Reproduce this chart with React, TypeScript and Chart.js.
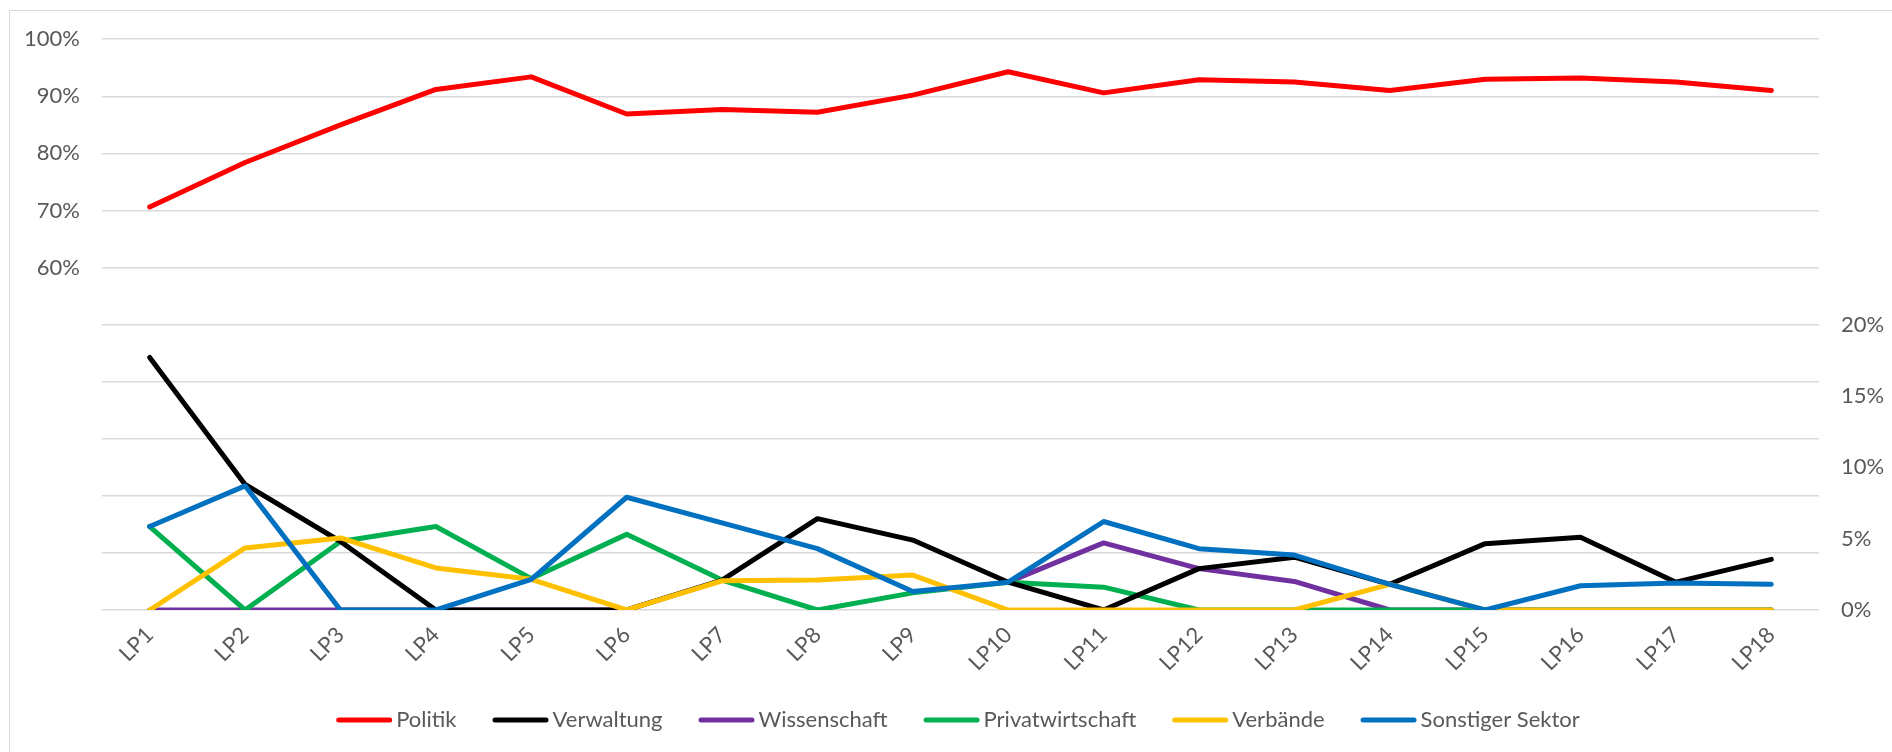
import React, { useEffect, useRef } from "react";
import { Chart, registerables } from "chart.js";

Chart.register(...registerables);

const categories = ["LP1", "LP2", "LP3", "LP4", "LP5", "LP6", "LP7", "LP8", "LP9", "LP10", "LP11", "LP12", "LP13", "LP14", "LP15", "LP16", "LP17", "LP18"];

const politik = [70.6, 78.4, 85.0, 91.2, 93.4, 86.9, 87.7, 87.2, 90.2, 94.3, 90.6, 92.9, 92.5, 91.0, 93.0, 93.2, 92.5, 91.0];
const verwaltung = [17.7, 8.8, 4.8, 0, 0, 0, 2.1, 6.4, 4.9, 1.95, 0, 2.9, 3.7, 1.8, 4.65, 5.1, 1.95, 3.55];
const wissenschaft = [0, 0, 0, 0, 0, 0, null, null, null, 1.95, 4.7, 2.9, 2.0, 0, 0, 0, 0, 0];
const privatwirtschaft = [5.85, 0, 4.8, 5.85, 2.2, 5.3, 2.1, 0, 1.2, 1.95, 1.6, 0, 0, 0, 0, 0, 0, 0];
const verbaende = [0, 4.35, 5.05, 2.95, 2.15, 0, 2.05, 2.1, 2.45, 0, 0, 0, 0, 1.8, 0, 0, 0, 0];
const sonstiger = [5.85, 8.7, 0, 0, 2.15, 7.9, 6.1, 4.3, 1.3, 1.95, 6.2, 4.3, 3.85, 1.8, 0, 1.7, 1.9, 1.8];

const seriesNames = ["Politik", "Verwaltung", "Wissenschaft", "Privatwirtschaft", "Verbände", "Sonstiger Sektor"];
const seriesColors = ["#FF0000", "#000000", "#7030A0", "#00B050", "#FFC000", "#0070C0"];

const FONT = "Lato, 'Open Sans', sans-serif";
const TEXT = "#595959";

export default function App() {
  const ref = useRef<HTMLCanvasElement>(null);

  useEffect(() => {
    if (!ref.current) return;

    const legendPlugin = {
      id: "excelLegend",
      afterDraw(chart: any) {
        const ctx = chart.ctx as CanvasRenderingContext2D;
        const ds = chart.data.datasets;
        ctx.save();
        ctx.font = `22px ${FONT}`;
        const sample = 56;
        const gap = 4;
        const itemGap = 36;
        const widths = ds.map((d: any) => sample + gap + ctx.measureText(d.label).width);
        const total = widths.reduce((a: number, b: number) => a + b, 0) + itemGap * (ds.length - 1);
        let x = 948 - total / 2;
        const y = 716;
        ds.forEach((d: any, i: number) => {
          ctx.strokeStyle = d.borderColor;
          ctx.lineWidth = 5;
          ctx.lineCap = "round";
          ctx.beginPath();
          ctx.moveTo(x + 2.5, y);
          ctx.lineTo(x + sample - 2.5, y);
          ctx.stroke();
          ctx.fillStyle = TEXT;
          ctx.textBaseline = "middle";
          ctx.textAlign = "left";
          ctx.fillText(d.label, x + sample + gap, y);
          x += widths[i] + itemGap;
        });
        ctx.restore();
      },
    };

    const mk = (i: number, data: (number | null)[], axis: string, order: number) => ({
      label: seriesNames[i],
      data,
      yAxisID: axis,
      borderColor: seriesColors[i],
      backgroundColor: seriesColors[i],
      borderWidth: 5,
      borderCapStyle: "round",
      borderJoinStyle: "round",
      pointRadius: 0,
      tension: 0,
      fill: false,
      spanGaps: false,
      order,
    });

    const chart = new Chart(ref.current, {
      type: "line",
      data: {
        labels: categories,
        datasets: [
          mk(0, politik, "yLeft", 1),
          mk(1, verwaltung, "yRight", 4),
          mk(2, wissenschaft, "yRight", 6),
          mk(3, privatwirtschaft, "yRight", 5),
          mk(4, verbaende, "yRight", 3),
          mk(5, sonstiger, "yRight", 2),
        ] as any,
      },
      options: {
        animation: false,
        responsive: false,
        devicePixelRatio: 1,
        events: [],
        layout: { padding: { top: 28, left: 0, right: 0, bottom: 0 } },
        plugins: {
          legend: { display: false },
          tooltip: { enabled: false },
          title: { display: false },
        },
        scales: {
          x: {
            type: "category",
            offset: true,
            grid: { display: false, drawTicks: false },
            border: { display: false },
            ticks: {
              autoSkip: false,
              maxRotation: 45,
              minRotation: 45,
              padding: 12,
              color: TEXT,
              font: { family: FONT, size: 22 },
            },
            afterFit(scale: any) {
              scale.height = 133;
            },
          },
          yLeft: {
            type: "linear",
            position: "left",
            min: 0,
            max: 100,
            ticks: {
              stepSize: 10,
              padding: 22,
              color: TEXT,
              font: { family: FONT, size: 22 },
              callback: (v: any) => (Number(v) >= 60 ? `${v}%` : ""),
            },
            grid: { color: "#d9d9d9", lineWidth: 1.5, drawTicks: false },
            border: { display: false },
            afterFit(scale: any) {
              scale.width = 92;
            },
          },
          yRight: {
            type: "linear",
            position: "right",
            min: 0,
            max: 40,
            ticks: {
              stepSize: 5,
              padding: 22,
              color: TEXT,
              font: { family: FONT, size: 22 },
              callback: (v: any) => (Number(v) <= 20 ? `${v}%` : ""),
            },
            grid: { display: false, drawTicks: false },
            border: { display: false },
            afterFit(scale: any) {
              scale.width = 65;
            },
          },
        },
      } as any,
      plugins: [legendPlugin],
    });

    return () => chart.destroy();
  }, []);

  return (
    <div
      style={{
        position: "fixed",
        top: 10,
        left: 9,
        width: 1910,
        height: 760,
        borderLeft: "1px solid #d9d9d9",
        borderTop: "1px solid #d9d9d9",
        background: "#fff",
      }}
    >
      <canvas
        ref={ref}
        width={1874}
        height={739}
        style={{ display: "block", position: "absolute", left: 0, top: -7 }}
      />
    </div>
  );
}
